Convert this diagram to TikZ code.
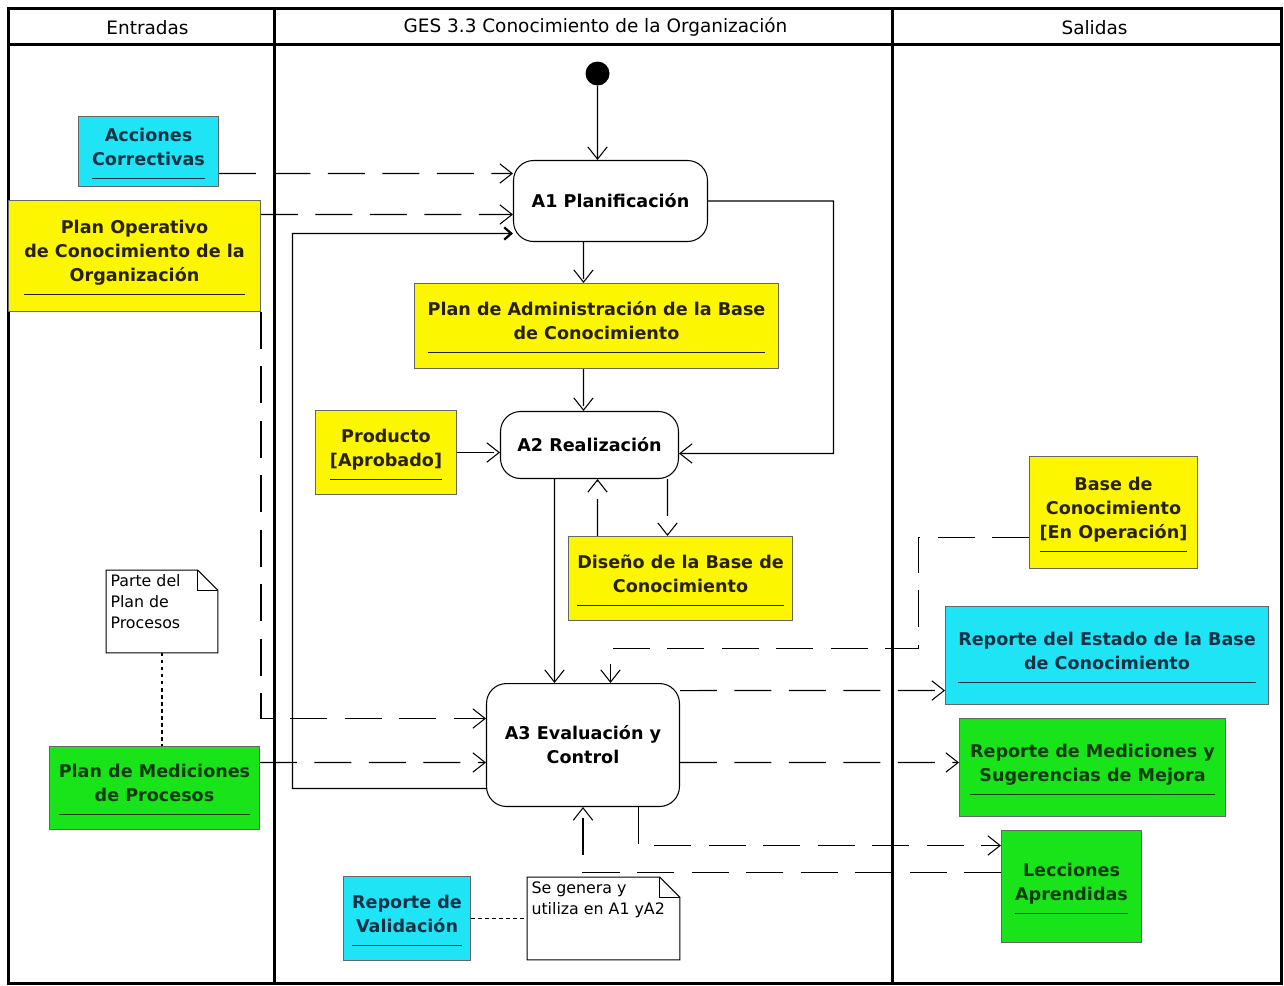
\documentclass[tikz,border=0pt]{standalone}
\usepackage{fontspec}
\setmainfont{DejaVu Sans}
\usetikzlibrary{arrows.meta,positioning,calc}
\definecolor{amarillo}{RGB}{252,246,0}
\definecolor{celeste}{RGB}{30,228,245}
\definecolor{verde}{RGB}{25,228,25}
\definecolor{txtAmarillo}{RGB}{40,34,0}
\definecolor{txtCeleste}{RGB}{15,50,70}
\definecolor{txtVerde}{RGB}{12,60,12}
\newcommand{\objeto}[1]{\begin{tabular}{@{}c@{}}#1\\[3pt]\hline\end{tabular}}

\begin{document}
\begin{tikzpicture}[x=0.02cm,y=-0.02cm,
	flujo/.style={-{Straight Barb[length=7pt,width=11pt]},line width=0.6pt},
	discont/.style={flujo,dash pattern=on 21pt off 10pt},
	punteado/.style={line width=0.6pt,dash pattern=on 2pt off 2pt},
	]
	\useasboundingbox (0,0) rectangle (1284,985);
	\begin{scope}[shift={(0.5,0.5)}]

	% carriles
	\begin{scope}[line width=1.6pt]
		\draw (8,8) rectangle (1281,983);
		\draw (8,44) -- (1281,44);
		\draw (274,8) -- (274,983);
		\draw (892,8) -- (892,983);
	\end{scope}

	\begin{scope}[every node/.style={font=\fontsize{10.5}{12}\selectfont}]
		\node (tEntradas) at (147,27) {Entradas};
		\node (tProceso) at (595,27) {GES 3.3 Conocimiento de la Organización};
		\node (tSalidas) at (1094,27) {Salidas};
	\end{scope}

	% actividades
	\node [circle,fill=black,minimum size=0.48cm,inner sep=0pt] (inicio) at (597,73) {};
	\begin{scope}[every node/.style={draw,rounded corners=0.4cm,fill=white,align=center,
		line width=0.6pt,font=\bfseries\fontsize{10}{13.6}\selectfont}]
		\node [minimum width=3.88cm,minimum height=1.62cm] (planificacion) at (610,200.5) {A1 Planificación};
		\node [minimum width=3.56cm,minimum height=1.34cm] (realizacion) at (589,444.5) {A2 Realización};
		\node [minimum width=3.86cm,minimum height=2.46cm] (evaluacion) at (582.5,744.5) {A3 Evaluación y\\Control};
	\end{scope}

	% objetos
	\begin{scope}[every node/.style={draw=black!60,line width=0.6pt,inner sep=0pt,
		font=\bfseries\fontsize{10}{13.6}\selectfont}]
		\node [fill=celeste,text=txtCeleste,minimum width=2.8cm,minimum height=1.4cm] (acciones) at (148,151) {\objeto{Acciones\\Correctivas}};
		\node [fill=amarillo,text=txtAmarillo,minimum width=5.04cm,minimum height=2.22cm] (planOperativo) at (134,255.5) {\objeto{Plan Operativo\\de Conocimiento de la\\Organización}};
		\node [fill=amarillo,text=txtAmarillo,minimum width=7.28cm,minimum height=1.7cm] (planAdmin) at (596,325.5) {\objeto{Plan de Administración de la Base\\de Conocimiento}};
		\node [fill=amarillo,text=txtAmarillo,minimum width=2.82cm,minimum height=1.68cm] (producto) at (385.5,452) {\objeto{Producto\\{[Aprobado]}}};
		\node [fill=amarillo,text=txtAmarillo,minimum width=4.48cm,minimum height=1.68cm] (disenio) at (680,578) {\objeto{Diseño de la Base de\\Conocimiento}};
		\node [fill=amarillo,text=txtAmarillo,minimum width=3.36cm,minimum height=2.24cm] (baseConocimiento) at (1113,512) {\objeto{Base de\\Conocimiento\\{[En Operación]}}};
		\node [fill=celeste,text=txtCeleste,minimum width=6.46cm,minimum height=1.96cm] (reporteEstado) at (1106.5,655) {\objeto{Reporte del Estado de la Base\\de Conocimiento}};
		\node [fill=verde,text=txtVerde,minimum width=5.32cm,minimum height=1.96cm] (reporteMediciones) at (1092,767) {\objeto{Reporte de Mediciones y\\Sugerencias de Mejora}};
		\node [fill=verde,text=txtVerde,minimum width=2.8cm,minimum height=2.24cm] (lecciones) at (1071,886) {\objeto{Lecciones\\Aprendidas}};
		\node [fill=verde,text=txtVerde,minimum width=4.2cm,minimum height=1.66cm] (planMediciones) at (154,787.5) {\objeto{Plan de Mediciones\\de Procesos}};
		\node [fill=celeste,text=txtCeleste,minimum width=2.54cm,minimum height=1.68cm] (reporteValidacion) at (406.5,918) {\objeto{Reporte de\\Validación}};
	\end{scope}

	% notas
	\begin{scope}[every node/.style={inner sep=0pt,font=\fontsize{9}{12}\selectfont}]
		\node [minimum width=2.22cm,minimum height=1.64cm] (nota1) at (161.5,611) {\parbox[c][1.48cm][t]{2.06cm}{Parte del\\Plan de\\Procesos}};
		\node [minimum width=3.04cm,minimum height=1.64cm] (nota2) at (603,918) {\parbox[c][1.48cm][t]{2.88cm}{Se genera y\\utiliza en A1 yA2}};
	\end{scope}
	\begin{scope}[line width=0.6pt]
		\draw (nota1.north west) -- ([xshift=-0.4cm]nota1.north east) -- ([yshift=-0.4cm]nota1.north east) -- (nota1.south east) -- (nota1.south west) -- cycle;
		\draw ([xshift=-0.4cm]nota1.north east) |- ([yshift=-0.4cm]nota1.north east);
		\draw (nota2.north west) -- ([xshift=-0.4cm]nota2.north east) -- ([yshift=-0.4cm]nota2.north east) -- (nota2.south east) -- (nota2.south west) -- cycle;
		\draw ([xshift=-0.4cm]nota2.north east) |- ([yshift=-0.4cm]nota2.north east);
	\end{scope}

	% flujos
	\draw [flujo] (inicio) -- ([xshift=-0.26cm]planificacion.north);
	\draw [discont] ([yshift=-0.44cm]acciones.east) -- ([yshift=0.55cm]planificacion.west);
	\draw [discont] ([yshift=0.83cm]planOperativo.east) -- ([yshift=-0.27cm]planificacion.west);
	\draw [-{Straight Barb[length=4pt,width=7pt,line width=1.3pt]},line width=0.6pt]
		([yshift=-0.87cm]evaluacion.west) -| (292,233) -- ([yshift=-0.65cm]planificacion.west);
	\draw [discont] ([xshift=-0.54cm]planificacion.south) -- ([xshift=-0.26cm]planAdmin.north);
	\draw [discont] ([xshift=-0.26cm]planAdmin.south) -- ([xshift=-0.12cm]realizacion.north);
	\draw [flujo] (planificacion.east) -| (833,453) -- ([yshift=-0.17cm]realizacion.east);
	\draw [discont] (producto.east) -- (producto.east -| realizacion.west);
	\draw [discont] ([xshift=1.56cm]realizacion.south) -- ([xshift=-0.26cm]disenio.north);
	\draw [discont] ([xshift=-1.66cm]disenio.north) -- ([xshift=0.16cm]realizacion.south);
	\draw [flujo] ([xshift=-0.7cm]realizacion.south) -- ([xshift=-0.57cm]evaluacion.north);
	\draw [discont] ([yshift=-0.5cm]baseConocimiento.west) -| (918,648) -| ([xshift=0.55cm]evaluacion.north);
	\draw [discont] (planOperativo.south east) |- ([yshift=0.53cm]evaluacion.west);
	\draw [discont] ([yshift=0.51cm]planMediciones.east) -- ([yshift=-0.35cm]evaluacion.west);
	\draw [discont] ([yshift=1.09cm]evaluacion.east) -- ([yshift=-0.7cm]reporteEstado.west);
	\draw [discont] ([yshift=-0.35cm]evaluacion.east) -- ([yshift=0.1cm]reporteMediciones.west);
	\draw [discont] ([xshift=1.11cm]evaluacion.south) |- ([yshift=0.82cm]lecciones.west);
	\draw [discont] ([yshift=0.28cm]lecciones.west) -| (evaluacion.south);
	\draw [punteado] (nota1.south) -- (nota1.south |- planMediciones.north);
	\draw [punteado] (reporteValidacion.east) -- (reporteValidacion.east -| nota2.west);
	\end{scope}
\end{tikzpicture}
\end{document}
